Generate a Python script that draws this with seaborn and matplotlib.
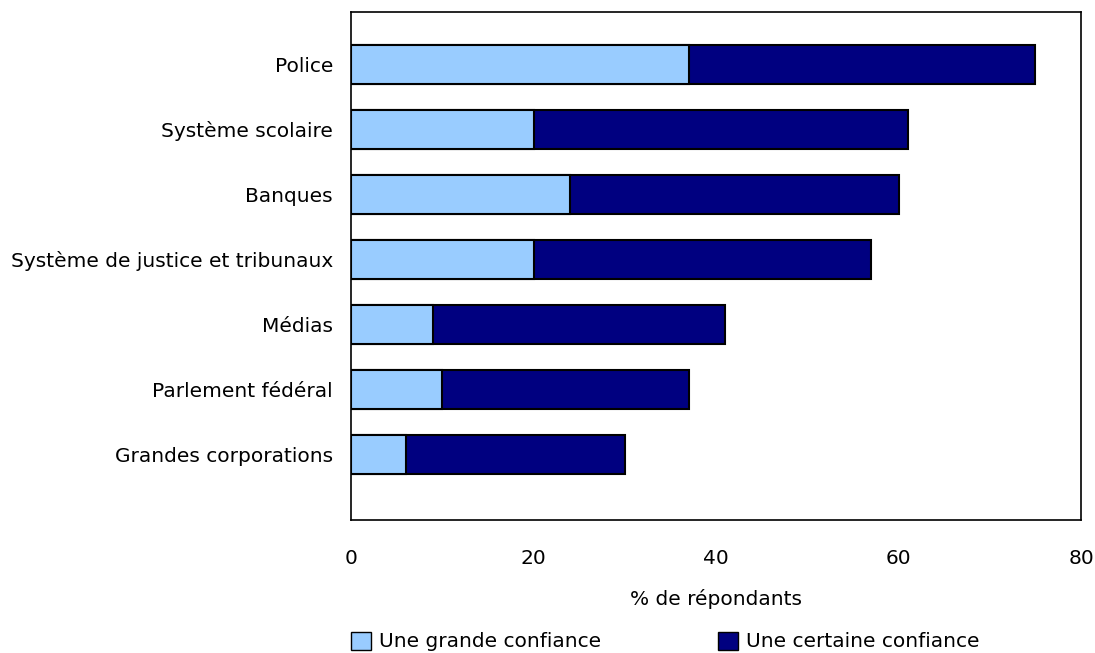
import matplotlib
matplotlib.use("Agg")
import matplotlib.pyplot as plt
import seaborn as sns
import pandas as pd
from matplotlib.patches import Patch

categories = ["Police", "Système scolaire", "Banques", "Système de justice et tribunaux",
              "Médias", "Parlement fédéral", "Grandes corporations"]
grande = [37, 20, 24, 20, 9, 10, 6]
certaine = [38, 41, 36, 37, 32, 27, 24]
xticks = [0, 20, 40, 60, 80]
series_names = ["Une grande confiance", "Une certaine confiance"]
light = "#99CCFF"
dark = "#000080"

df = pd.DataFrame({"cat": categories, "grande": grande, "certaine": certaine})
df["total"] = df["grande"] + df["certaine"]

sns.set_style("white")
plt.rcParams["font.family"] = ["DejaVu Sans"]
plt.rcParams["text.color"] = "black"
plt.rcParams["axes.labelcolor"] = "black"
FS = 14.5

fig = plt.figure(figsize=(10.95, 6.53), dpi=100)
ax = fig.add_axes([351/1095, 1 - 520/653, (1081 - 351)/1095, (520 - 12)/653])

sns.barplot(data=df, y="cat", x="total", color=dark, orient="h", width=0.6,
            edgecolor="black", linewidth=1.5, saturation=1, ax=ax)
sns.barplot(data=df, y="cat", x="grande", color=light, orient="h", width=0.6,
            edgecolor="black", linewidth=1.5, saturation=1, ax=ax)

ax.set_xlim(0, 80)
ax.set_ylim(7.0, -0.8)
ax.set_xticks(xticks)
ax.set_xticklabels([str(t) for t in xticks], fontsize=FS)
ax.tick_params(axis="x", direction="in", length=8, width=1, pad=21, colors="black")
ax.tick_params(axis="y", length=0, pad=13, labelsize=FS, colors="black")
ax.set_ylabel("")
ax.set_xlabel("% de répondants", fontsize=FS, labelpad=15, color="black")
for s in ax.spines.values():
    s.set_visible(True)
    s.set_color("black")
    s.set_linewidth(1.2)

handles = [Patch(facecolor=light, edgecolor="black", label=series_names[0]),
           Patch(facecolor=dark, edgecolor="black", label=series_names[1])]
fig.legend(handles=handles, loc="lower left", bbox_to_anchor=(343/1095, -0.010), ncol=2,
           frameon=False, fontsize=FS, handlelength=1.0, handleheight=1.0,
           handletextpad=0.4, columnspacing=5.8, borderaxespad=0)

fig.savefig("out.png", dpi=100)
